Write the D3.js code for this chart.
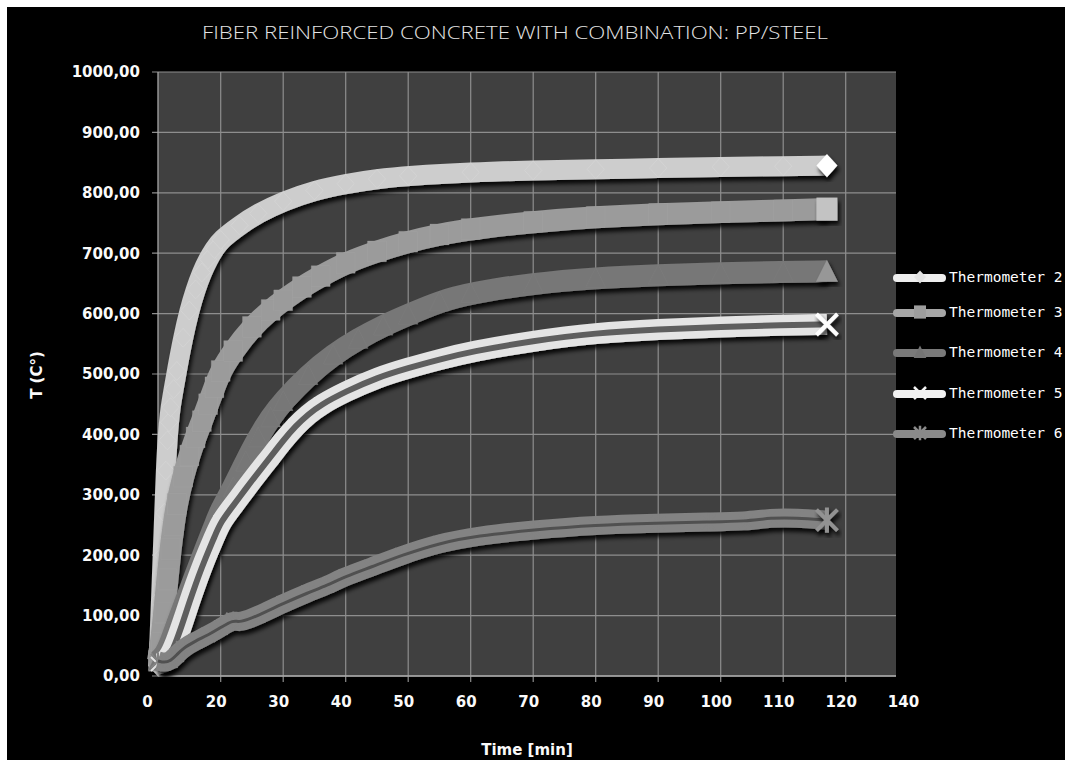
<!DOCTYPE html>
<html><head><meta charset="utf-8">
<script src="https://cdn.jsdelivr.net/npm/d3@7"></script>
<style>body{margin:0;background:#fff}svg{display:block}</style>
</head><body>
<svg id="c" width="1065" height="764"></svg>
<script>
// ---------- data (time [min], temperature [°C]) ----------
const seriesNames = ["Thermometer 2","Thermometer 3","Thermometer 4","Thermometer 5","Thermometer 6"];
const thermo2 = [[0,15],[0.5,60],[1,130],[1.5,200],[2,270],[2.5,340],[3,390],[3.5,420],[4,445],[5,475],[6,505],[8,560],[10,605],[12,640],[14,668],[16,690],[18,707],[20,722],[23,746],[26,766],[30,786],[35,804],[40,815],[45,823],[50,828],[60,834],[70,837],[80,839],[90,841],[100,843],[110,844],[117,845]];
const thermo3 = [[0,25],[1,55],[2,105],[3,160],[4,210],[5,250],[6,285],[8,330],[10,365],[12,395],[14,422],[16,450],[18,478],[20,505],[22,538],[25,578],[28,606],[30,622],[33,644],[36,662],[40,684],[45,703],[50,719],[55,731],[60,740],[70,752],[80,760],[90,765],[100,768],[110,771],[117,773]];
const thermo4 = [[0,25],[2,33],[4,55],[6,85],[8,112],[10,140],[12,168],[14,195],[16,222],[18,248],[20,275],[22,312],[24,355],[26,395],[28,428],[30,455],[34,498],[38,532],[42,558],[46,580],[50,598],[55,620],[60,634],[70,650],[80,659],[90,664],[100,667],[110,669],[117,670]];
const thermo5 = [[0,20],[2,22],[4,35],[6,60],[8,90],[10,122],[12,152],[14,180],[16,206],[18,230],[20,255],[22,282],[24,310],[26,337],[28,363],[30,390],[32,414],[34,433],[36,449],[40,471],[45,494],[50,510],[55,524],[60,537],[70,555],[80,568],[90,574],[100,578],[110,581],[117,582]];
const thermo6 = [[0,25],[2,22],[4,25],[6,35],[8,46],[12,58],[16,68],[20,80],[22,93],[23,88],[26,100],[30,120],[34,138],[37,150],[40,165],[44,180],[49,200],[55,220],[61,232],[70,242],[80,250],[90,253],[98,255],[104,256],[108,262],[112,262],[117,258]];
const xTicks = [0,20,30,40,50,60,70,80,90,100,110,120,140];
const yTicks = [0,100,200,300,400,500,600,700,800,900,1000];
const titleText = "FIBER REINFORCED CONCRETE WITH COMBINATION: PP/STEEL";
const xTitle = "Time [min]";
const yTitle = "T (C°)";

// ---------- styles ----------
const styles = [
  {data:thermo2, color:"#cdcdcd", mark:"#e4e4e4", shape:"diamond", w:20},
  {data:thermo3, color:"#9b9b9b", mark:"#acacac", shape:"square",  w:22},
  {data:thermo4, color:"#777777", mark:"#858585", shape:"triangle",w:22},
  {data:thermo5, color:"#e4e4e4", mark:"#e4e4e4", shape:"x",       w:21, inner:"#5e5e5e", innerW:6},
  {data:thermo6, color:"#838383", mark:"#838383", shape:"asterisk",w:19, inner:"#505050", innerW:3}
];
const legendColors = ["#eeeeee","#a6a6a6","#7a7a7a","#f2f2f2","#8a8a8a"];

const svg = d3.select("#c");
svg.append("rect").attr("width",1065).attr("height",764).attr("fill","#fff");
svg.append("rect").attr("x",7).attr("y",7).attr("width",1058).attr("height",753).attr("fill","#000");

const defs = svg.append("defs");
const f = defs.append("filter").attr("id","sh").attr("x","-10%").attr("y","-10%").attr("width","130%").attr("height","130%");
f.append("feDropShadow").attr("dx",2).attr("dy",4).attr("stdDeviation",2).attr("flood-color","#000").attr("flood-opacity",0.9);

const L = 158, R = 896, T = 72, B = 676;
const x = d3.scaleLinear().domain([0,20,120,140]).range([L,220.7,845.7,R]);
const y = d3.scaleLinear().domain([0,1000]).range([B,T]);

svg.append("rect").attr("x",L).attr("y",T).attr("width",R-L).attr("height",B-T).attr("fill","#404040");

// gridlines
const grid = svg.append("g").attr("stroke","#8e8e8e").attr("stroke-width",1.2);
grid.selectAll(".gy").data(yTicks).join("line")
  .attr("x1",L-6).attr("x2",R).attr("y1",d=>y(d)).attr("y2",d=>y(d));
grid.selectAll(".gx").data(xTicks.filter(d=>d>0 && d<140)).join("line")
  .attr("x1",d=>x(d)).attr("x2",d=>x(d)).attr("y1",T).attr("y2",B+6);
svg.append("line").attr("x1",L).attr("x2",L).attr("y1",T).attr("y2",B).attr("stroke","#a8a8a8").attr("stroke-width",1.3);
svg.append("line").attr("x1",L).attr("x2",R).attr("y1",B).attr("y2",B).attr("stroke","#a8a8a8").attr("stroke-width",1.3);

// axes (labels)
const fmt = v => d3.format(".2f")(v).replace(".",",");
const ya = svg.append("g").attr("transform",`translate(${L},0)`)
  .call(d3.axisLeft(y).tickValues(yTicks).tickSize(0).tickPadding(18).tickFormat(fmt));
const xa = svg.append("g").attr("transform",`translate(0,${B})`)
  .call(d3.axisBottom(x).tickValues(xTicks).tickSize(0).tickPadding(20).tickFormat(d3.format("d")));
[ya,xa].forEach(a=>{
  a.select(".domain").remove();
  a.selectAll("text").attr("fill","#fafafa").style("font-family","'DejaVu Sans',Verdana,sans-serif")
   .style("font-size","15px").style("font-weight","bold");
});
xa.selectAll("text").attr("dx",d=>d===0?-11:(d===140?7:-5));

// titles
svg.append("text").attr("x",515).attr("y",39).attr("text-anchor","middle")
  .attr("textLength",626).attr("lengthAdjust","spacingAndGlyphs")
  .attr("fill","#e4e4e4").style("font-family","'Open Sans','Liberation Sans',sans-serif")
  .style("font-size","18px").style("font-weight","300").text(titleText);
svg.append("text").attr("x",527).attr("y",755).attr("text-anchor","middle")
  .attr("fill","#fafafa").style("font-family","'DejaVu Sans',sans-serif")
  .style("font-size","15px").style("font-weight","bold").text(xTitle);
svg.append("text").attr("transform","translate(42,375) rotate(-90)").attr("text-anchor","middle")
  .attr("fill","#fafafa").style("font-family","'DejaVu Sans',sans-serif")
  .style("font-size","15px").style("font-weight","bold").text(yTitle);

// marker shapes
function shapePath(s, r){
  switch(s){
    case "diamond": return `M0,${-r*1.1}L${r},0L0,${r*1.1}L${-r},0Z`;
    case "square": return `M${-r},${-r*1.1}H${r}V${r*1.1}H${-r}Z`;
    case "triangle": return `M0,${-r*1.1}L${r*1.05},${r}L${-r*1.05},${r}Z`;
    case "x": return `M${-r},${-r}L${r},${r}M${r},${-r}L${-r},${r}`;
    case "asterisk": return `M${-r},${-r}L${r},${r}M${r},${-r}L${-r},${r}M0,${-r*1.2}V${r*1.2}`;
  }
}
const stroked = s => s==="x" || s==="asterisk";

const line = d3.line().x(d=>x(d[0])).y(d=>y(d[1])).curve(d3.curveBasis);

styles.forEach(st=>{
  const g = svg.append("g");
  g.append("path").attr("d",line(st.data)).attr("fill","none")
    .attr("stroke",st.color).attr("stroke-width",st.w).attr("stroke-linejoin","round")
    .attr("filter","url(#sh)");
  const pts = st.data.slice(0,-1);
  g.selectAll(".m").data(pts).join("path")
    .attr("transform",d=>`translate(${x(d[0])},${y(d[1])})`)
    .attr("d",shapePath(st.shape, stroked(st.shape)?7:st.w*0.43))
    .attr("fill",stroked(st.shape)?"none":st.color)
    .attr("stroke",st.mark)
    .attr("stroke-width",stroked(st.shape)?2:0.8)
    .attr("stroke-opacity",stroked(st.shape)?1:0.3);
  if(st.inner){
    g.append("path").attr("d",line(st.data)).attr("fill","none")
      .attr("stroke",st.inner).attr("stroke-width",st.innerW).attr("stroke-linejoin","round");
  }
  const last = st.data[st.data.length-1];
  g.append("path").attr("transform",`translate(${x(last[0])},${y(last[1])})`)
    .attr("d",shapePath(st.shape, 10.5))
    .attr("fill",stroked(st.shape)?"none":d3.color(st.mark).brighter(0.35))
    .attr("stroke",stroked(st.shape)?d3.color(st.mark).brighter(0.3):"none")
    .attr("stroke-width",stroked(st.shape)?4:0)
    .attr("filter","url(#sh)");
});

// legend
const lg = svg.append("g");
const legY = [277,312,352,393,433];
seriesNames.forEach((n,i)=>{
  const st = styles[i];
  const gy = legY[i];
  lg.append("line").attr("x1",897).attr("x2",942).attr("y1",gy+1).attr("y2",gy+1)
    .attr("stroke",legendColors[i]).attr("stroke-width",8).attr("stroke-linecap","round");
  lg.append("path").attr("transform",`translate(920,${gy})`)
    .attr("d",shapePath(st.shape,6))
    .attr("fill",stroked(st.shape)?"none":d3.color(legendColors[i]).darker(0.15))
    .attr("stroke",stroked(st.shape)?legendColors[i]:"none")
    .attr("stroke-width",stroked(st.shape)?2.5:0);
  lg.append("text").attr("x",949).attr("y",gy).attr("dy","0.35em")
    .attr("fill","#ffffff").style("font-family","'DejaVu Sans Mono',monospace")
    .style("font-size","14.5px").text(n);
});
</script>
</body></html>
